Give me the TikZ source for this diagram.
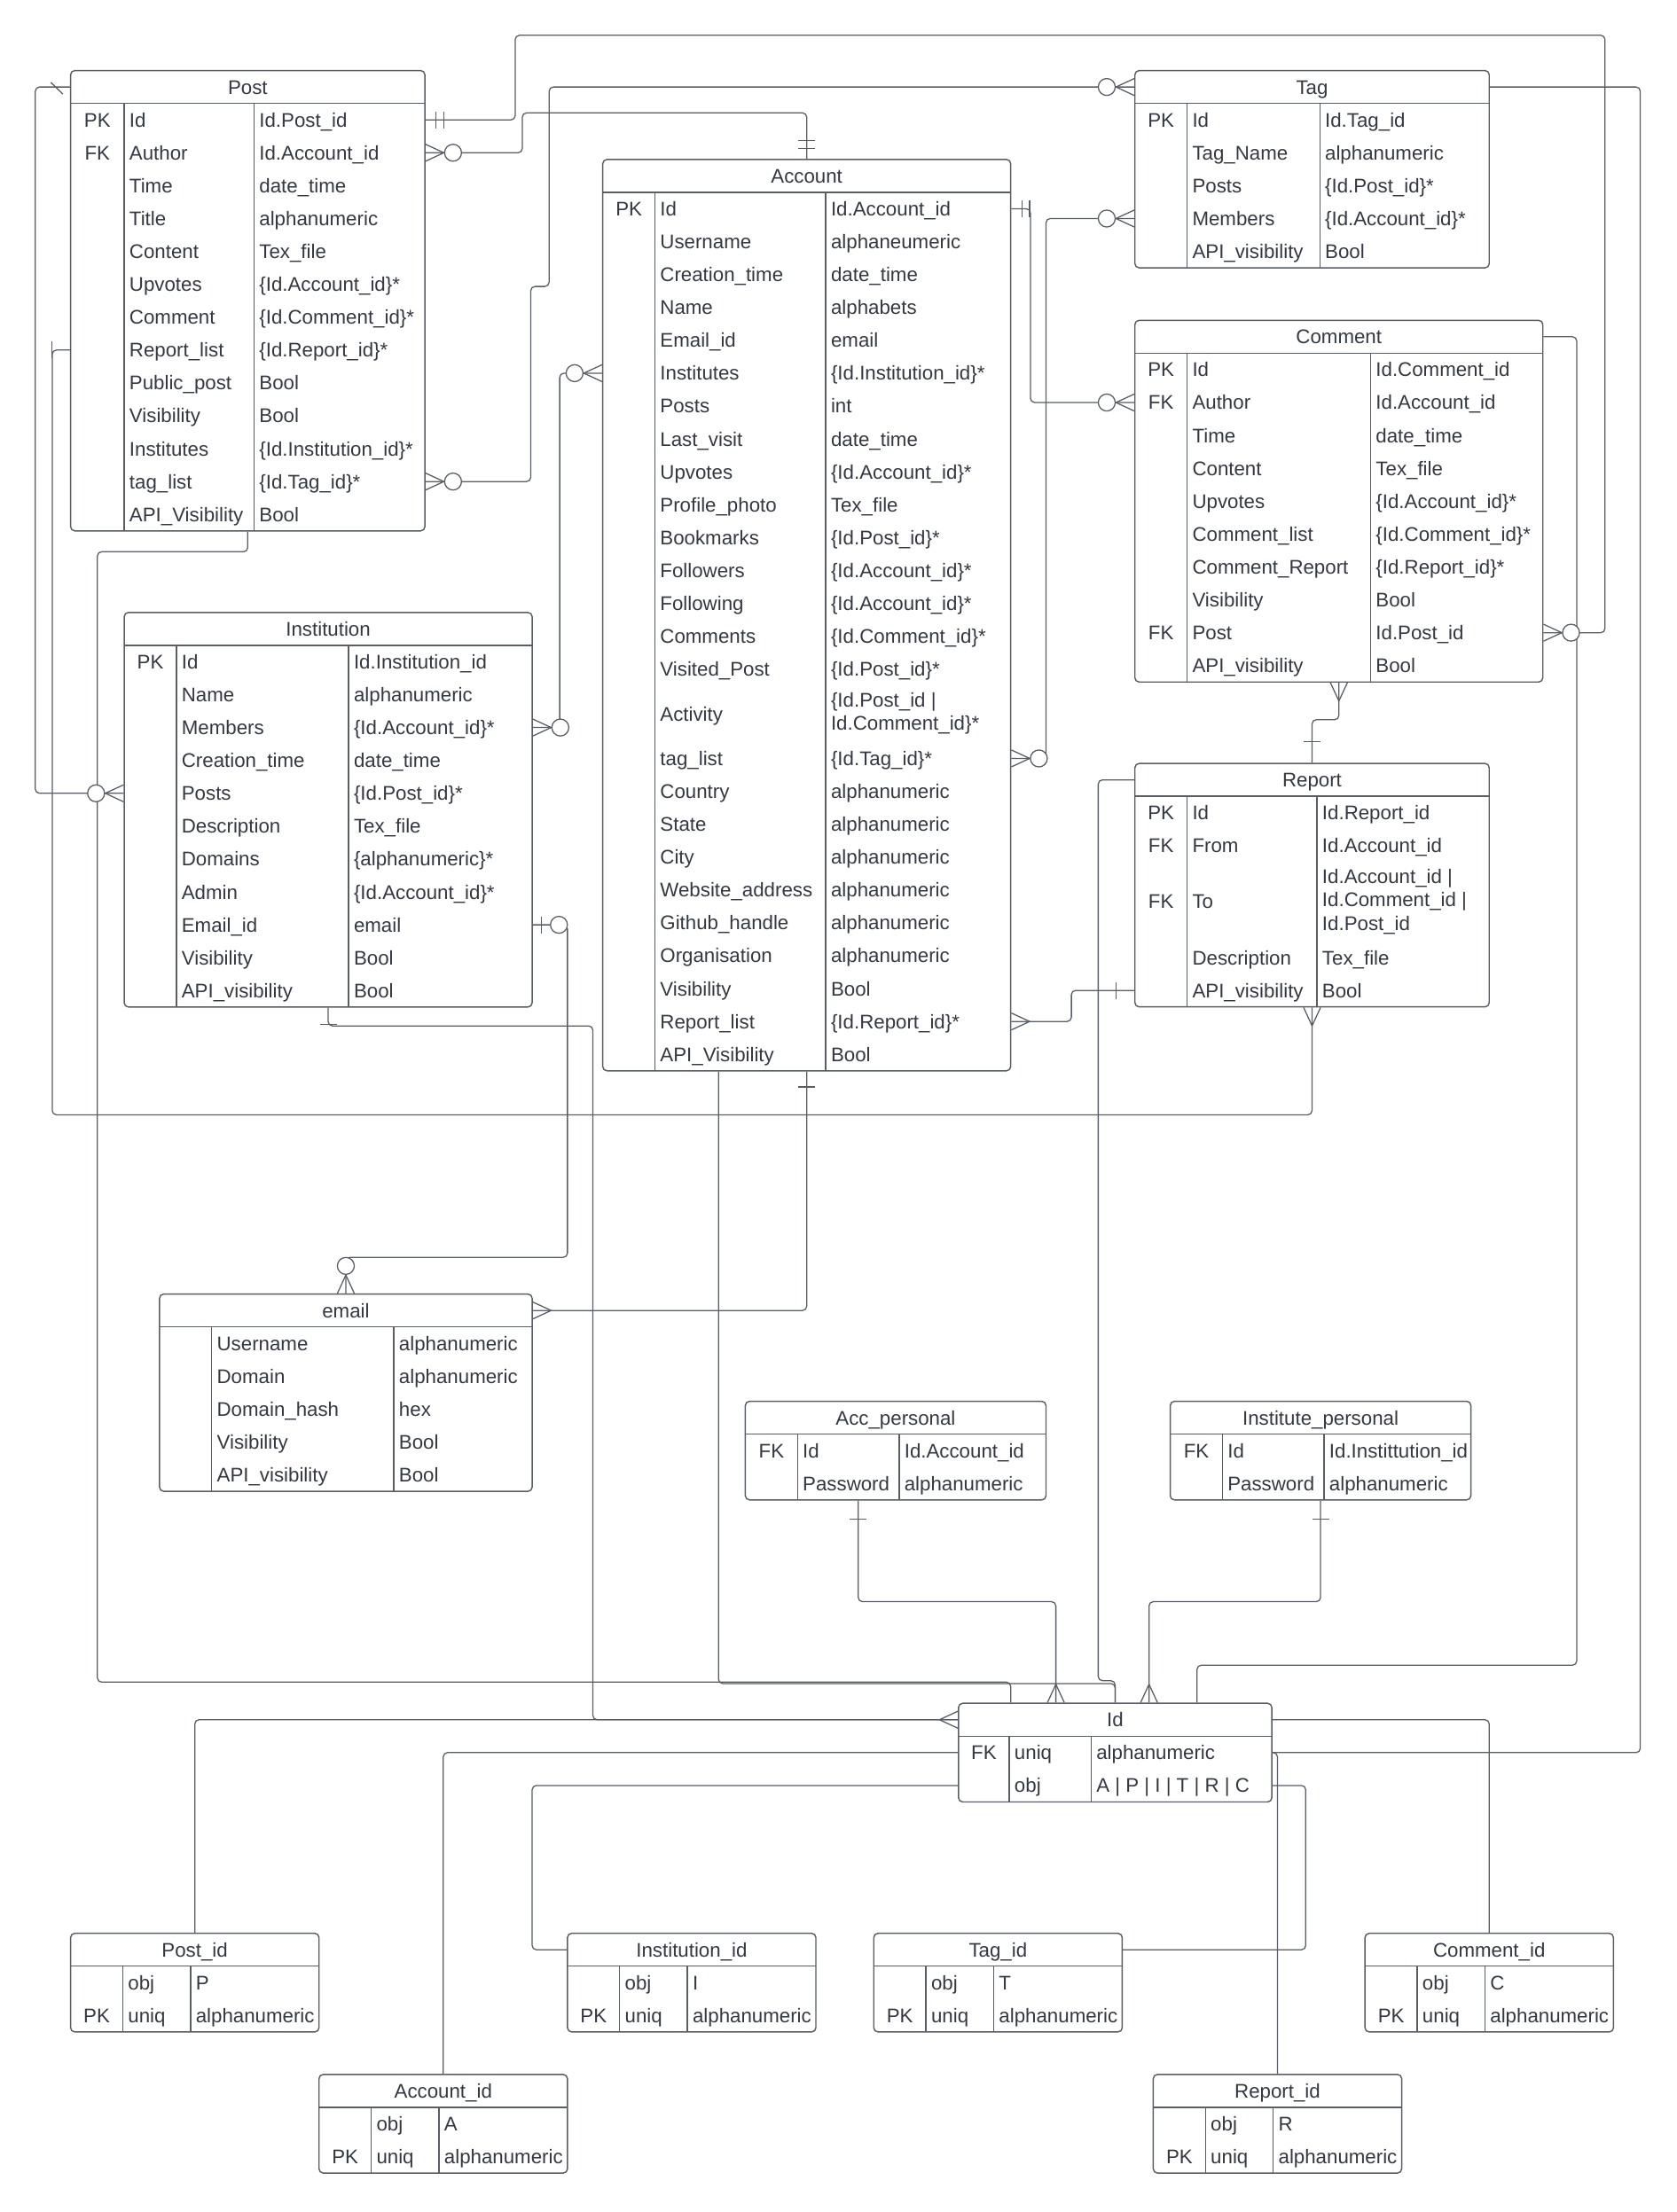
\documentclass[tikz,border=0pt]{standalone}
\usepackage{fontspec}
\setmainfont{Liberation Sans}
\usetikzlibrary{fit}

\definecolor{ink}{RGB}{51,56,66}
\definecolor{edge}{RGB}{88,93,102}

\tikzset{
  tablebox/.style={draw=edge, line width=0.9pt, rounded corners=3pt, fill=white, inner sep=0pt},
  tblrule/.style={draw=edge, line width=0.9pt},
  conn/.style={draw=edge, line width=0.8pt, rounded corners=3pt},
  endmark/.style={draw=edge, line width=0.8pt},
  txt/.style={font=\fontsize{14}{16.5}\selectfont, text=ink, inner sep=0pt},
  cell/.style={txt, anchor=west, text height=10pt, text depth=0pt},
  mcell/.style={txt, anchor=west, align=left},
  keycell/.style={txt, anchor=center, text height=10pt, text depth=0pt},
  titlecell/.style={txt, anchor=center, text height=10pt, text depth=0pt},
}

% table: name, left, divider 1, divider 2, right, top, bottom, title
\newcommand\ertable[8]{%
  \xdef\colL{#2}\xdef\colA{#3}\xdef\colB{#4}%
  \node[tablebox, fit={(#2,#6) (#5,#7)}] (#1) {};
  \node[titlecell] (#1-head) at ({(#2+#5)/2},{#6+11.65}) {#8};
  \draw[tblrule] (#2,{#6+23.3}) -- (#5,{#6+23.3});
  \draw[tblrule] (#3,{#6+23.3}) -- (#3,#7);
  \draw[tblrule] (#4,{#6+23.3}) -- (#4,#7);
  \pgfmathsetmacro\ertmp{#6+23.3}\xdef\rowy{\ertmp}%
}
% row: name, key, field, type
\newcommand\errow[4]{%
  \pgfmathsetmacro\rowc{\rowy+11.65}%
  \ifx\relax#2\relax\else\node[keycell] (#1-key) at ({(\colL+\colA)/2},\rowc) {#2};\fi
  \node[cell] (#1) at ({\colA+3.5},\rowc) {#3};
  \node[cell] (#1-type) at ({\colB+3.5},\rowc) {#4};
  \pgfmathsetmacro\ertmp{\rowy+23.3}\xdef\rowy{\ertmp}%
}
% tall row: height, name, key, field, multi-line type
\newcommand\ertall[5]{%
  \pgfmathsetmacro\rowc{\rowy+#1/2}%
  \ifx\relax#3\relax\else\node[keycell] (#2-key) at ({(\colL+\colA)/2},\rowc) {#3};\fi
  \node[cell] (#2) at ({\colA+3.5},\rowc) {#4};
  \node[mcell] (#2-type) at ({\colB+3.5},\rowc) {#5};
  \pgfmathsetmacro\ertmp{\rowy+#1}\xdef\rowy{\ertmp}%
}

% crow's-foot end markers: point on the table edge, outward angle
\newcommand\mkmany[2]{\begin{scope}[shift={#1}, rotate=#2]
  \draw[endmark] (0,-6) -- (13,0) -- (0,6);\end{scope}}
\newcommand\mkzmany[2]{\begin{scope}[shift={#1}, rotate=#2]
  \draw[endmark] (0,-6) -- (13,0) -- (0,6);
  \draw[endmark, fill=white] (19.5,0) circle[radius=6pt];\end{scope}}
\newcommand\mkmone[2]{\begin{scope}[shift={#1}, rotate=#2]
  \draw[endmark] (7.5,-6) -- (7.5,6) (13,-6) -- (13,6);\end{scope}}
\newcommand\mkone[3]{\begin{scope}[shift={#1}, rotate=#2]
  \draw[endmark] (#3,-6) -- (#3,6);\end{scope}}
\newcommand\mkzone[2]{\begin{scope}[shift={#1}, rotate=#2]
  \draw[endmark] (6,-6) -- (6,6);
  \draw[endmark, fill=white] (18.5,0) circle[radius=6pt];\end{scope}}

\begin{document}
\begin{tikzpicture}[x=1pt, y=-1pt]
\fill[white] (0,0) rectangle (1188,1567.5);
\useasboundingbox (0,0) rectangle (1188,1567.5);

% ---------------- entities ----------------
\ertable{post}{50}{88}{180}{301}{50}{376.2}{Post}
\errow{post-id}{PK}{Id}{Id.Post\_id}
\errow{post-author}{FK}{Author}{Id.Account\_id}
\errow{post-time}{}{Time}{date\_time}
\errow{post-title}{}{Title}{alphanumeric}
\errow{post-content}{}{Content}{Tex\_file}
\errow{post-upvotes}{}{Upvotes}{\{Id.Account\_id\}*}
\errow{post-comment}{}{Comment}{\{Id.Comment\_id\}*}
\errow{post-reportlist}{}{Report\_list}{\{Id.Report\_id\}*}
\errow{post-public}{}{Public\_post}{Bool}
\errow{post-visibility}{}{Visibility}{Bool}
\errow{post-institutes}{}{Institutes}{\{Id.Institution\_id\}*}
\errow{post-taglist}{}{tag\_list}{\{Id.Tag\_id\}*}
\errow{post-api}{}{API\_Visibility}{Bool}

\ertable{tag}{804}{841}{935}{1055}{50}{189.8}{Tag}
\errow{tag-id}{PK}{Id}{Id.Tag\_id}
\errow{tag-name}{}{Tag\_Name}{alphanumeric}
\errow{tag-posts}{}{Posts}{\{Id.Post\_id\}*}
\errow{tag-members}{}{Members}{\{Id.Account\_id\}*}
\errow{tag-api}{}{API\_visibility}{Bool}

\ertable{account}{427}{464}{585}{716}{113}{758.8}{Account}
\errow{account-id}{PK}{Id}{Id.Account\_id}
\errow{account-username}{}{Username}{alphaneumeric}
\errow{account-ctime}{}{Creation\_time}{date\_time}
\errow{account-name}{}{Name}{alphabets}
\errow{account-email}{}{Email\_id}{email}
\errow{account-institutes}{}{Institutes}{\{Id.Institution\_id\}*}
\errow{account-posts}{}{Posts}{int}
\errow{account-lastvisit}{}{Last\_visit}{date\_time}
\errow{account-upvotes}{}{Upvotes}{\{Id.Account\_id\}*}
\errow{account-photo}{}{Profile\_photo}{Tex\_file}
\errow{account-bookmarks}{}{Bookmarks}{\{Id.Post\_id\}*}
\errow{account-followers}{}{Followers}{\{Id.Account\_id\}*}
\errow{account-following}{}{Following}{\{Id.Account\_id\}*}
\errow{account-comments}{}{Comments}{\{Id.Comment\_id\}*}
\errow{account-visited}{}{Visited\_Post}{\{Id.Post\_id\}*}
\ertall{40}{account-activity}{}{Activity}{\{Id.Post\_id |\\Id.Comment\_id\}*}
\errow{account-taglist}{}{tag\_list}{\{Id.Tag\_id\}*}
\errow{account-country}{}{Country}{alphanumeric}
\errow{account-state}{}{State}{alphanumeric}
\errow{account-city}{}{City}{alphanumeric}
\errow{account-website}{}{Website\_address}{alphanumeric}
\errow{account-github}{}{Github\_handle}{alphanumeric}
\errow{account-org}{}{Organisation}{alphanumeric}
\errow{account-visibility}{}{Visibility}{Bool}
\errow{account-reportlist}{}{Report\_list}{\{Id.Report\_id\}*}
\errow{account-api}{}{API\_Visibility}{Bool}

\ertable{comment}{804}{841}{971}{1093}{227}{483.3}{Comment}
\errow{comment-id}{PK}{Id}{Id.Comment\_id}
\errow{comment-author}{FK}{Author}{Id.Account\_id}
\errow{comment-time}{}{Time}{date\_time}
\errow{comment-content}{}{Content}{Tex\_file}
\errow{comment-upvotes}{}{Upvotes}{\{Id.Account\_id\}*}
\errow{comment-list}{}{Comment\_list}{\{Id.Comment\_id\}*}
\errow{comment-report}{}{Comment\_Report}{\{Id.Report\_id\}*}
\errow{comment-visibility}{}{Visibility}{Bool}
\errow{comment-post}{FK}{Post}{Id.Post\_id}
\errow{comment-api}{}{API\_visibility}{Bool}

\ertable{report}{804}{841}{933}{1055}{541}{713.5}{Report}
\errow{report-id}{PK}{Id}{Id.Report\_id}
\errow{report-from}{FK}{From}{Id.Account\_id}
\ertall{56}{report-to}{FK}{To}{Id.Account\_id |\\Id.Comment\_id |\\Id.Post\_id}
\errow{report-desc}{}{Description}{Tex\_file}
\errow{report-api}{}{API\_visibility}{Bool}

\ertable{institution}{88}{125}{247}{377}{434}{713.6}{Institution}
\errow{institution-id}{PK}{Id}{Id.Institution\_id}
\errow{institution-name}{}{Name}{alphanumeric}
\errow{institution-members}{}{Members}{\{Id.Account\_id\}*}
\errow{institution-ctime}{}{Creation\_time}{date\_time}
\errow{institution-posts}{}{Posts}{\{Id.Post\_id\}*}
\errow{institution-desc}{}{Description}{Tex\_file}
\errow{institution-domains}{}{Domains}{\{alphanumeric\}*}
\errow{institution-admin}{}{Admin}{\{Id.Account\_id\}*}
\errow{institution-email}{}{Email\_id}{email}
\errow{institution-visibility}{}{Visibility}{Bool}
\errow{institution-api}{}{API\_visibility}{Bool}

\ertable{email}{113}{150}{279}{377}{917}{1056.8}{email}
\errow{email-username}{}{Username}{alphanumeric}
\errow{email-domain}{}{Domain}{alphanumeric}
\errow{email-hash}{}{Domain\_hash}{hex}
\errow{email-visibility}{}{Visibility}{Bool}
\errow{email-api}{}{API\_visibility}{Bool}

\ertable{accp}{528}{565}{637}{741}{993}{1062.9}{Acc\_personal}
\errow{accp-id}{FK}{Id}{Id.Account\_id}
\errow{accp-password}{}{Password}{alphanumeric}

\ertable{instp}{829}{866}{938}{1042}{993}{1062.9}{Institute\_personal}
\errow{instp-id}{FK}{Id}{Id.Instittution\_id}
\errow{instp-password}{}{Password}{alphanumeric}

\ertable{id}{679}{715}{773}{901}{1207}{1276.9}{Id}
\errow{id-uniq}{FK}{uniq}{alphanumeric}
\errow{id-obj}{}{obj}{A | P | I | T | R | C}

\ertable{postid}{50}{87}{135}{226}{1370}{1439.9}{Post\_id}
\errow{postid-obj}{}{obj}{P}
\errow{postid-uniq}{PK}{uniq}{alphanumeric}

\ertable{instid}{402}{439}{487}{578}{1370}{1439.9}{Institution\_id}
\errow{instid-obj}{}{obj}{I}
\errow{instid-uniq}{PK}{uniq}{alphanumeric}

\ertable{tagid}{619}{656}{704}{795}{1370}{1439.9}{Tag\_id}
\errow{tagid-obj}{}{obj}{T}
\errow{tagid-uniq}{PK}{uniq}{alphanumeric}

\ertable{commentid}{967}{1004}{1052}{1143}{1370}{1439.9}{Comment\_id}
\errow{commentid-obj}{}{obj}{C}
\errow{commentid-uniq}{PK}{uniq}{alphanumeric}

\ertable{accountid}{226}{263}{311}{402}{1470}{1539.9}{Account\_id}
\errow{accountid-obj}{}{obj}{A}
\errow{accountid-uniq}{PK}{uniq}{alphanumeric}

\ertable{reportid}{817}{854}{902}{993}{1470}{1539.9}{Report\_id}
\errow{reportid-obj}{}{obj}{R}
\errow{reportid-uniq}{PK}{uniq}{alphanumeric}

% ---------------- relationships ----------------
\draw[conn] (post.east |- post-id) -| (365,25) -- (1137,25) |- (comment.east |- comment-post);
\draw[conn] (post.east |- post-author) -| (370,80) -| (account.north);
\draw[conn] (post.east |- post-taglist) -| (376,203) -| (389,120) |- (tag.west |- tag-head);
\draw[conn] (account.east |- account-id) -| (730,200) |- (comment.west |- comment-author);
\draw[conn] (account.east |- account-taglist) -| (741,300) |- (tag.west |- tag-members);
\draw[conn] (account.west |- account-institutes) -| (396.5,400) |- (institution.east |- institution-members);
\draw[conn] (post.west |- post-head) -| (25,300) |- (institution.west |- institution-posts);
\draw[conn] (post.west |- post-reportlist) -| (37,790) -| (report.south);
\draw[conn] (account.south) |- (email.east |- email-head);
\draw[conn] (institution.east |- institution-email) -| (402,891) -| (email.north);
\draw[conn] (institution.south) |- (420,727) |- (id.west |- id-head);
\draw[conn] (post.south) |- (69,391) |- (716,1192) -- (716,0 |- id.north);
\draw[conn] (509,0 |- account.south) -- (509,1193) -| (id.north);
\draw[conn] (report.west |- report-head) -| (778,1191) -| (id.north);
\draw[conn] (608,0 |- accp.south) |- (748,1135) -- (748,0 |- id.north);
\draw[conn] (instp.south) |- (814,1135) -- (814,0 |- id.north);
\draw[conn] (comment.east |- comment-head) -| (1117,700) |- (848,1180) -- (848,0 |- id.north);
\draw[conn] (tag.east |- tag-head) -| (1162,700) |- (id.east |- id-uniq);
\draw[conn] (id.east |- id-head) -| (commentid.north);
\draw[conn] (id.east |- id-obj) -| (925,1330) |- (tagid.east |- tagid-head);
\draw[conn] (id.east |- id-uniq) -| (reportid.north);
\draw[conn] (id.west |- id-head) -| (postid.north);
\draw[conn] (id.west |- id-uniq) -| (accountid.north);
\draw[conn] (id.west |- id-obj) -| (377,1330) |- (instid.west |- instid-head);
\draw[conn] (comment.south) |- (940,510) -| (report.north);
\draw[conn] (account.east |- account-reportlist) -| (759,712) |- (report.west |- report-api);

% ---------------- end markers ----------------
\mkmone{(post.east |- post-id)}{0}
\mkzmany{(comment.east |- comment-post)}{0}
\mkzmany{(post.east |- post-author)}{0}
\mkmone{(account.north)}{90}
\mkzmany{(post.east |- post-taglist)}{0}
\mkzmany{(tag.west |- tag-head)}{180}
\mkmone{(account.east |- account-id)}{0}
\mkzmany{(comment.west |- comment-author)}{180}
\mkzmany{(account.east |- account-taglist)}{0}
\mkzmany{(tag.west |- tag-members)}{180}
\mkzmany{(account.west |- account-institutes)}{180}
\mkzmany{(institution.east |- institution-members)}{0}
\begin{scope}[shift={(post.west |- post-head)}]
  \draw[endmark] (-13.5,-3.2) -- (-5,5);
\end{scope}
\mkzmany{(institution.west |- institution-posts)}{180}
\mkone{(post.west |- post-reportlist)}{180}{13}
\mkmany{(report.south)}{270}
\mkone{(account.south)}{270}{11}
\mkmany{(email.east |- email-head)}{0}
\mkzone{(institution.east |- institution-email)}{0}
\mkzmany{(email.north)}{90}
\mkone{(institution.south)}{270}{12}
\mkmany{(id.west |- id-head)}{180}
\mkone{(608,0 |- accp.south)}{270}{13}
\mkmany{(748,0 |- id.north)}{90}
\mkone{(instp.south)}{270}{13}
\mkmany{(814,0 |- id.north)}{90}
\mkmany{(comment.south)}{270}
\mkone{(report.north)}{90}{15}
\mkmany{(account.east |- account-reportlist)}{0}
\mkone{(report.west |- report-api)}{180}{13}
\end{tikzpicture}
\end{document}
